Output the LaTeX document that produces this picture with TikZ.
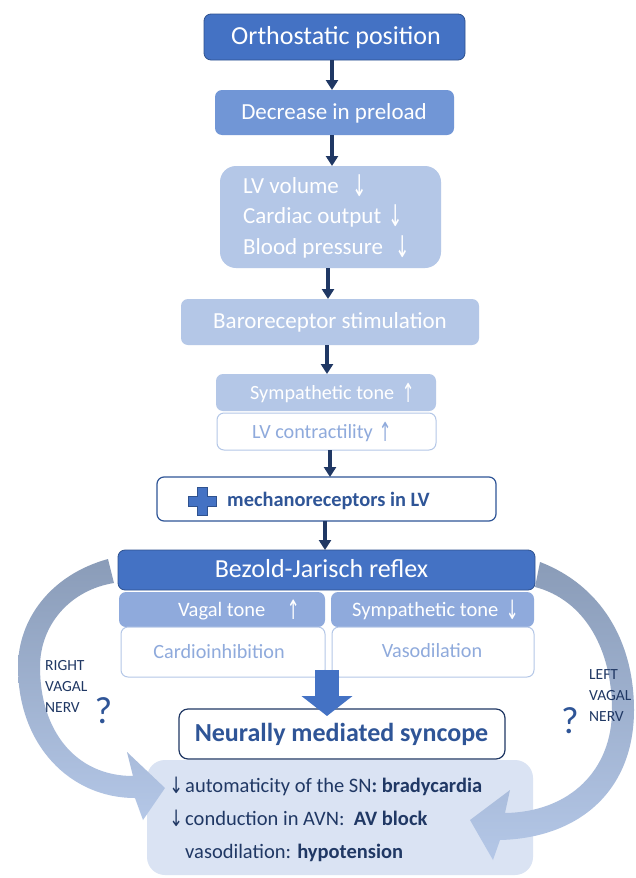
\documentclass[tikz,border=0pt]{standalone}
\usepackage{fontspec}
\setmainfont{Carlito}
\newfontfamily\arrfont{DejaVu Sans}
\usetikzlibrary{arrows.meta,calc}
\definecolor{cdark}{HTML}{4472C4}
\definecolor{cdarkb}{HTML}{2F528F}
\definecolor{cmed}{HTML}{7196D6}
\definecolor{clight}{HTML}{B4C7E7}
\definecolor{crow}{HTML}{8FAADC}
\definecolor{cpale}{HTML}{DAE3F3}
\definecolor{cnavy}{HTML}{203864}
\definecolor{cblue}{HTML}{2F5597}
\definecolor{cband}{HTML}{8A9CB8}
\newcommand\fs[1]{\fontsize{#1}{#1}\selectfont}
\newcommand\dn{\raisebox{-0.12em}{\scalebox{0.75}[1.3]{\arrfont ↓}}}
\newcommand\upa{\raisebox{-0.12em}{\scalebox{0.75}[1.3]{\arrfont ↑}}}
\newcommand\bdn{\raisebox{-0.05em}{\scalebox{0.8}[1.1]{\arrfont ↓}}}
\begin{document}
\begin{tikzpicture}[x=1pt,y=-1pt,
  bx/.style={rounded corners=7pt, inner sep=0pt, outer sep=0pt},
  txt/.style={inner sep=0pt, text height=0.62em, text depth=0pt, yshift=-3.5pt},
  conn/.style={draw=cnavy, line width=3.2pt, -{Triangle[width=12pt,length=10pt]}},
  blockarrow/.style={draw=cdark, line width=24pt, -{Triangle[width=50pt,length=20pt]}},
  nerv/.style={inner sep=0pt, align=left, text=cnavy, font=\fontsize{15.5}{21}\selectfont},
  qmark/.style={inner sep=0pt, text=cblue, font=\fs{38}}
]
\useasboundingbox (0,0) rectangle (636,878);
\fill[white] (0,0) rectangle (636,878);

% bottom box
\node[bx, rounded corners=18pt, fill=cpale, minimum width=386pt, minimum height=115pt] (bottom) at (340,817.5) {};

% curved bands
\shade[top color=cband, bottom color=clight]
  (108,559) .. controls (50,575) and (18,620) .. (18,667)
  .. controls (18,745) and (70,798) .. (135,798)
  -- (143,820) -- (165,788) -- (127,752) -- (133,776)
  .. controls (75,776) and (40,730) .. (40,667)
  .. controls (40,625) and (70,590) .. (114,583) -- cycle;
\shade[top color=cband, bottom color=clight]
  (540,562) .. controls (600,585) and (634,640) .. (634,710)
  .. controls (634,790) and (580,838) .. (500,840)
  -- (493,860) -- (470,820) -- (510,790) -- (505,813)
  .. controls (570,812) and (612,770) .. (612,710)
  .. controls (612,650) and (585,600) .. (535,587) -- cycle;

% boxes
\node[bx, fill=cdark, draw=cdarkb, line width=0.8pt, minimum width=261pt, minimum height=46pt] (ortho) at (334.5,37) {};
\node[bx, fill=cmed, minimum width=239pt, minimum height=45pt] (preload) at (334.5,112.5) {};
\node[bx, rounded corners=16pt, fill=clight, minimum width=221pt, minimum height=102pt] (lv) at (330.5,217) {};
\node[bx, fill=clight, minimum width=298pt, minimum height=46pt] (baro) at (330,322) {};
\node[bx, fill=clight, minimum width=220pt, minimum height=37pt] (symp1) at (326,392.5) {};
\node[bx, fill=white, draw=clight, line width=1pt, minimum width=219pt, minimum height=37pt] (lvc) at (326.5,431.5) {};
\node[bx, fill=white, draw=cblue, line width=1.2pt, minimum width=339pt, minimum height=44pt] (mech) at (326.5,499) {};
\node[bx, fill=cdark, draw=cdarkb, line width=0.8pt, minimum width=417pt, minimum height=40pt] (bezold) at (326.5,570) {};
\node[bx, fill=crow, minimum width=206pt, minimum height=35pt] (vagal) at (222,609.5) {};
\node[bx, fill=crow, minimum width=203pt, minimum height=35pt] (symp2) at (432.5,609.5) {};
\node[bx, fill=white, draw=clight, line width=1pt, minimum width=204pt, minimum height=50pt] (cardio) at (223,652) {};
\node[bx, fill=white, draw=clight, line width=1pt, minimum width=202pt, minimum height=50pt] (vaso) at (433,652) {};
\node[bx, rounded corners=9pt, fill=white, draw=cnavy, line width=1.2pt, minimum width=326pt, minimum height=50pt] (syncope) at (342,734) {};

% texts
\node[txt, text=white, font=\fs{26}] at (336,38) {Orthostatic position};
\node[txt, text=white, font=\fs{23}] at (334,113) {Decrease in preload};
\node[txt, anchor=west, text=white, font=\fs{23}] at (243,187) {\makebox[117pt][l]{LV volume}\makebox[0pt]{\dn}};
\node[txt, anchor=west, text=white, font=\fs{23}] at (243,217) {\makebox[153pt][l]{Cardiac output}\makebox[0pt]{\dn}};
\node[txt, anchor=west, text=white, font=\fs{23}] at (243,248) {\makebox[160pt][l]{Blood pressure}\makebox[0pt]{\dn}};
\node[txt, text=white, font=\fs{23}] at (330,322) {Baroreceptor stimulation};
\node[txt, anchor=west, text=white, font=\fs{20.2}] at (250,393) {\makebox[158pt][l]{Sympathetic tone}\makebox[0pt]{\upa}};
\node[txt, anchor=west, text=crow, font=\fs{20.2}] at (252,432) {\makebox[133pt][l]{LV contractility}\makebox[0pt]{\upa}};
\node[txt, anchor=west, text=cblue, font=\bfseries\fs{20.4}] at (227,500) {mechanoreceptors in LV};
\node[txt, text=white, font=\fs{26}] at (321.5,571) {Bezold-Jarisch reflex};
\node[txt, anchor=west, text=white, font=\fs{20.5}] at (178,610) {\makebox[115pt][l]{Vagal tone}\makebox[0pt]{\upa}};
\node[txt, anchor=west, text=white, font=\fs{20.5}] at (352,610) {\makebox[160pt][l]{Sympathetic tone}\makebox[0pt]{\dn}};
\node[txt, text=crow, font=\fs{20.2}] at (219,652) {Cardioinhibition};
\node[txt, text=crow, font=\fs{20.2}] at (432,651) {Vasodilation};
\node[txt, text=cblue, font=\bfseries\fs{26}] at (341.5,735) {Neurally mediated syncope};
\node[txt, anchor=west, text=cnavy, font=\fs{20.5}] at (185,786) {\llap{\bdn\hspace{2pt}}automaticity of the SN\textbf{: bradycardia}};
\node[txt, anchor=west, text=cnavy, font=\fs{20.5}] at (185,819) {\llap{\bdn\hspace{2pt}}conduction in AVN:\ \ \textbf{AV block}};
\node[txt, anchor=west, text=cnavy, font=\fs{20.5}] at (185,852) {vasodilation: \textbf{hypotension}};

\node[nerv, anchor=west] (rv) at (45,686) {RIGHT\\VAGAL\\NERV};
\node[qmark] (rq) at (103.5,711) {?};
\node[nerv, anchor=west] (lvn) at (589,696) {LEFT\\VAGAL\\NERV};
\node[qmark] (lq) at (570,721) {?};

% plus sign
\coordinate (pc) at (202,501);
\filldraw[fill=cdark, draw=cdarkb, line width=0.8pt]
  ($(pc)+(-5,-14)$) -- ($(pc)+(5,-14)$) -- ($(pc)+(5,-5)$) -- ($(pc)+(14,-5)$)
  -- ($(pc)+(14,5)$) -- ($(pc)+(5,5)$) -- ($(pc)+(5,14)$) -- ($(pc)+(-5,14)$)
  -- ($(pc)+(-5,5)$) -- ($(pc)+(-14,5)$) -- ($(pc)+(-14,-5)$) -- ($(pc)+(-5,-5)$) -- cycle;

% connectors
\draw[conn] (ortho.south -| 332,0) -- (preload.north -| 332,0);
\draw[conn] (preload.south -| 332,0) -- (lv.north -| 332,0);
\draw[conn] (lv.south -| 328,0) -- (baro.north -| 328,0);
\draw[conn] (baro.south -| 327,0) -- (symp1.north -| 327,0);
\draw[conn] (lvc.south -| 330,0) -- (mech.north -| 330,0);
\draw[conn] (mech.south -| 325,0) -- (bezold.north -| 325,0);
\coordinate (bsrc) at ($(cardio.south east)!0.5!(vaso.south west)+(-1.5,-7)$);
\draw[blockarrow, shorten >=-7pt] (bsrc) -- (bsrc |- syncope.north);
\end{tikzpicture}
\end{document}
